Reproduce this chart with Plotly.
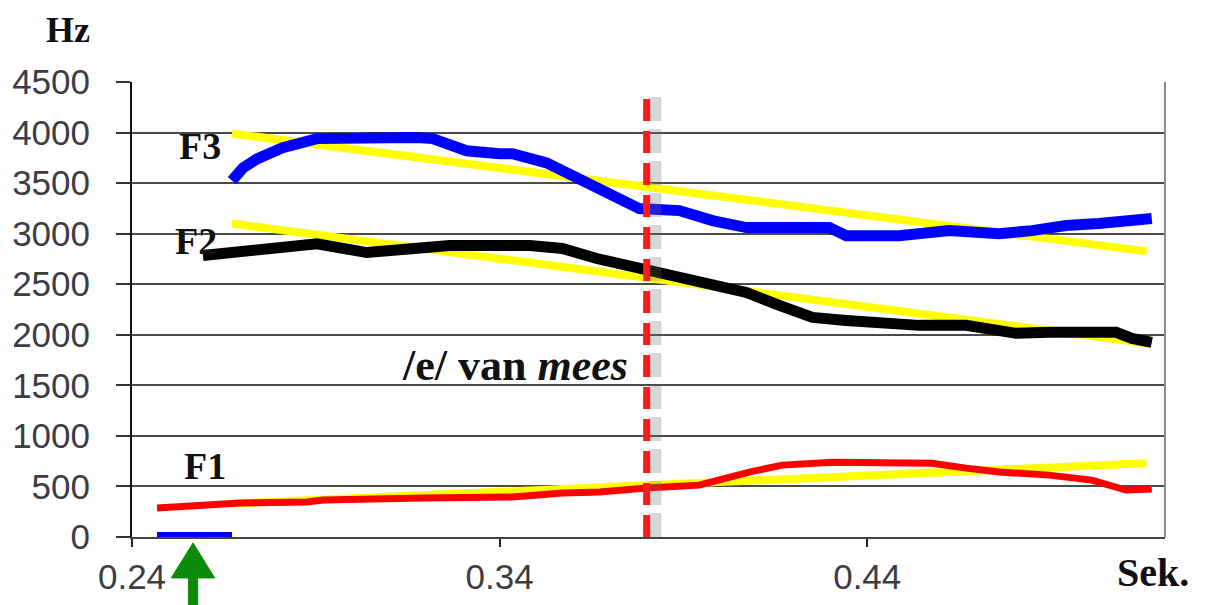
import plotly.graph_objects as go

# ---------------- data ----------------
f3_t = [0.2672, 0.2702, 0.2740, 0.2810, 0.2903, 0.2992, 0.3174, 0.3218, 0.3264, 0.3310,
        0.3400, 0.3435, 0.3528, 0.3617, 0.3707, 0.3780, 0.3889, 0.3979, 0.4071, 0.4297,
        0.4343, 0.4487, 0.4623, 0.4759, 0.4848, 0.4941, 0.5030, 0.5120, 0.5174]
f3_hz = [3524, 3650, 3740, 3850, 3940, 3950, 3950, 3940, 3870, 3820,
         3790, 3790, 3700, 3544, 3396, 3248, 3228, 3129, 3060, 3060,
         2980, 2980, 3030, 3000, 3030, 3080, 3100, 3130, 3150]

f2_t = [0.2593, 0.2767, 0.2903, 0.3039, 0.3174, 0.3264, 0.3482, 0.3571, 0.3664, 0.3780,
        0.3889, 0.3979, 0.4071, 0.4161, 0.4251, 0.4343, 0.4541, 0.4669, 0.4805, 0.4895,
        0.5077, 0.5120, 0.5174]
f2_hz = [2784, 2853, 2900, 2813, 2853, 2883, 2883, 2853, 2754, 2665,
         2586, 2517, 2419, 2290, 2172, 2142, 2093, 2093, 2014, 2024,
         2024, 1964, 1925]

f1_t = [0.2468, 0.2511, 0.2693, 0.2876, 0.2919, 0.3191, 0.3373, 0.3435, 0.3571, 0.3672,
        0.3799, 0.3943, 0.4079, 0.4169, 0.4305, 0.4487, 0.4577, 0.4669, 0.4759, 0.4895,
        0.5011, 0.5104, 0.5174]
f1_hz = [286, 296, 336, 346, 365, 385, 395, 395, 434, 444,
         484, 513, 642, 711, 740, 740, 730, 681, 642, 612,
         563, 464, 474]

trend_t = [0.2672, 0.5160]
f3_trend = [3990, 2825]
f2_trend = [3100, 1915]
f1_trend = [330, 730]

base_t = [0.2468, 0.2672]
base_hz = [0, 0]

boundary_t = 0.380
boundary_top = 4390
arrow_t = 0.2566

x_ticks = [0.24, 0.34, 0.44]
y_ticks = list(range(0, 4501, 500))
x_range = [0.24, 0.521]
y_range = [0, 4500]

# ---------------- figure ----------------
fig = go.Figure()
YEL = "#FFFF00"
for vals in (f3_trend, f2_trend, f1_trend):
    fig.add_trace(go.Scatter(x=trend_t, y=vals, mode="lines",
                             line=dict(color=YEL, width=8), hoverinfo="skip"))

fig.add_trace(go.Scatter(x=f3_t, y=f3_hz, mode="lines",
                         line=dict(color="#0000FF", width=11)))
fig.add_trace(go.Scatter(x=f2_t, y=f2_hz, mode="lines",
                         line=dict(color="#000000", width=11)))
fig.add_trace(go.Scatter(x=f1_t, y=f1_hz, mode="lines",
                         line=dict(color="#FF0000", width=7)))
fig.add_trace(go.Scatter(x=base_t, y=base_hz, mode="lines",
                         line=dict(color="#0000FF", width=10), cliponaxis=False))

# boundary line + its shadow
fig.add_shape(type="line", x0=boundary_t + 0.0024, x1=boundary_t + 0.0024,
              y0=0, y1=boundary_top, xref="x", yref="y",
              line=dict(color="rgba(110,110,110,0.28)", width=12, dash="24px,8px"))
fig.add_shape(type="line", x0=boundary_t, x1=boundary_t, y0=0, y1=boundary_top,
              xref="x", yref="y",
              line=dict(color="#FF1A1A", width=7, dash="22px,10px"))

# right border
fig.add_shape(type="line", x0=1, x1=1, y0=0, y1=1, xref="paper", yref="paper",
              line=dict(color="#8a8a8a", width=2))

# green arrow (paper coordinates derived from axis range)
def px(t):
    return (t - x_range[0]) / (x_range[1] - x_range[0])
ax_ = px(arrow_t)
hw = 0.021  # head half width (paper)
sw = 0.0045  # shaft half width (paper)
path = (f"M {ax_} -0.013 L {ax_ + hw} -0.09 L {ax_ + sw} -0.09 L {ax_ + sw} -0.16 "
        f"L {ax_ - sw} -0.16 L {ax_ - sw} -0.09 L {ax_ - hw} -0.09 Z")
fig.add_shape(type="path", path=path, xref="paper", yref="paper",
              fillcolor="#0B8A0B", line=dict(color="#0B8A0B", width=1))

SERIF = "Liberation Serif"
INK = "#111111"
lab = dict(family=SERIF, size=38, color=INK)
common = dict(showarrow=False, xanchor="center", yanchor="middle")
fig.add_annotation(x=-0.062, y=1.115, xref="paper", yref="paper", text="<b>Hz</b>",
                   font=dict(family=SERIF, size=36, color=INK), **common)
fig.add_annotation(x=0.2585, y=3870, text="<b>F3</b>", font=lab, **common)
fig.add_annotation(x=0.2574, y=2932, text="<b>F2</b>", font=lab, **common)
fig.add_annotation(x=0.2598, y=700, text="<b>F1</b>", font=lab, **common)
fig.add_annotation(x=0.3756, y=1698, xanchor="right", yanchor="middle",
                   text="<b>/e/ van <i>mees</i></b>", showarrow=False,
                   font=dict(family=SERIF, size=44, color=INK))
fig.add_annotation(x=0.988, y=-0.079, xref="paper", yref="paper", text="<b>Sek.</b>",
                   font=dict(family=SERIF, size=40, color=INK), **common)

TICKFONT = dict(family="Liberation Sans", size=35, color="#3c3c46")
fig.update_layout(
    width=1207, height=605,
    margin=dict(l=124, r=50, t=74, b=76),
    paper_bgcolor="white", plot_bgcolor="white",
    showlegend=False,
    xaxis=dict(range=x_range, tickvals=x_ticks, ticktext=[f"{v:.2f}" for v in x_ticks],
               showgrid=False, zeroline=False, showline=True, linecolor="#444444",
               linewidth=2, ticks="outside", ticklen=8, tickcolor="#222222",
               tickwidth=2, tickfont=TICKFONT, ticklabelstandoff=0, automargin=False),
    yaxis=dict(range=y_range, tickvals=y_ticks, showgrid=True, gridcolor="#4a4a4a",
               gridwidth=2, zeroline=False, showline=True, linecolor="#111111",
               linewidth=2, ticks="outside", ticklen=14, tickcolor="#333333",
               tickwidth=2, tickfont=TICKFONT, ticklabelstandoff=19, automargin=False),
)

fig.write_html("out.html")
